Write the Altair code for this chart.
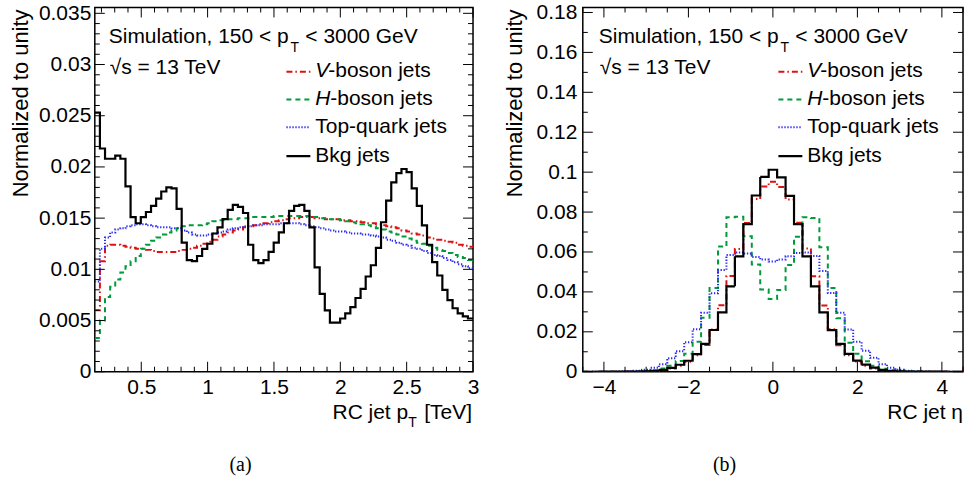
import altair as alt
import numpy as np
import pandas as pd

FONT = "Liberation Sans"
SERIF = "Liberation Serif"

# ---------------- data ----------------
series_names = ["V-boson jets", "H-boson jets", "Top-quark jets", "Bkg jets"]

# (a) RC jet pT [TeV], 74 bins between 0.15 and 3.0
pt_range = (0.15, 3.0)
pt_nbins = 74
pt_v = [0.0060, 0.0108, 0.0123, 0.0124, 0.0124, 0.0123, 0.0122, 0.0121, 0.0120, 0.0120,
        0.0119, 0.0118, 0.0117, 0.0117, 0.0117, 0.0117, 0.0118, 0.0119, 0.0120, 0.0121,
        0.0123, 0.0125, 0.0127, 0.0129, 0.0132, 0.0134, 0.0136, 0.0138, 0.0139, 0.0141,
        0.0142, 0.0143, 0.0144, 0.0145, 0.0146, 0.0147, 0.0148, 0.0149, 0.0150, 0.0150,
        0.0151, 0.0151, 0.0151, 0.0150, 0.0150, 0.0149, 0.0149, 0.0149, 0.0148, 0.0148,
        0.0147, 0.0147, 0.0146, 0.0145, 0.0145, 0.0144, 0.0143, 0.0142, 0.0141, 0.0140,
        0.0138, 0.0137, 0.0135, 0.0134, 0.0133, 0.0131, 0.0130, 0.0129, 0.0128, 0.0127,
        0.0126, 0.0124, 0.0123, 0.0122]
pt_h = [0.0033, 0.0050, 0.0073, 0.0083, 0.0090, 0.0097, 0.0103, 0.0108, 0.0113, 0.0120,
        0.0124, 0.0128, 0.0131, 0.0134, 0.0136, 0.0138, 0.0140, 0.0142, 0.0143, 0.0143,
        0.0143, 0.0144, 0.0145, 0.0147, 0.0148, 0.0148, 0.0149, 0.0149, 0.0150, 0.0150,
        0.0150, 0.0151, 0.0151, 0.0151, 0.0151, 0.0152, 0.0152, 0.0152, 0.0152, 0.0152,
        0.0152, 0.0152, 0.0151, 0.0151, 0.0150, 0.0150, 0.0149, 0.0149, 0.0148, 0.0147,
        0.0146, 0.0145, 0.0144, 0.0143, 0.0142, 0.0140, 0.0139, 0.0137, 0.0136, 0.0134,
        0.0132, 0.0130, 0.0128, 0.0126, 0.0125, 0.0123, 0.0121, 0.0119, 0.0118, 0.0116,
        0.0114, 0.0112, 0.0111, 0.0109]
pt_top = [0.0088, 0.0120, 0.0131, 0.0136, 0.0139, 0.0140, 0.0142, 0.0143, 0.0144, 0.0144,
          0.0143, 0.0142, 0.0141, 0.0141, 0.0141, 0.0140, 0.0140, 0.0138, 0.0136, 0.0134,
          0.0133, 0.0133, 0.0134, 0.0135, 0.0136, 0.0137, 0.0139, 0.0140, 0.0141, 0.0142,
          0.0142, 0.0143, 0.0143, 0.0144, 0.0144, 0.0144, 0.0145, 0.0145, 0.0145, 0.0145,
          0.0144, 0.0143, 0.0142, 0.0141, 0.0140, 0.0139, 0.0138, 0.0137, 0.0137, 0.0136,
          0.0135, 0.0135, 0.0134, 0.0134, 0.0133, 0.0132, 0.0131, 0.0129, 0.0128, 0.0126,
          0.0124, 0.0123, 0.0121, 0.0120, 0.0118, 0.0116, 0.0114, 0.0113, 0.0111, 0.0109,
          0.0107, 0.0105, 0.0103, 0.0101]
pt_bkg = [0.0253, 0.0218, 0.0208, 0.0208, 0.0211, 0.0208, 0.0181, 0.0151, 0.0145, 0.0151,
          0.0156, 0.0162, 0.0169, 0.0176, 0.0180, 0.0179, 0.0159, 0.0126, 0.0109, 0.0108,
          0.0113, 0.0120, 0.0125, 0.0135, 0.0141, 0.0149, 0.0158, 0.0163, 0.0161, 0.0155,
          0.0124, 0.0109, 0.0106, 0.0109, 0.0117, 0.0126, 0.0136, 0.0145, 0.0157, 0.0162,
          0.0163, 0.0157, 0.0141, 0.0102, 0.0076, 0.0060, 0.0048, 0.0048, 0.0052, 0.0057,
          0.0063, 0.0072, 0.0081, 0.0093, 0.0104, 0.0121, 0.0146, 0.0167, 0.0185, 0.0194,
          0.0198, 0.0195, 0.0179, 0.0162, 0.0143, 0.0124, 0.0107, 0.0094, 0.0080, 0.0070,
          0.0062, 0.0057, 0.0054, 0.0052]

# (b) RC jet eta, 45 bins between -4.5 and 4.5
eta_range = (-4.5, 4.5)
eta_nbins = 45
eta_v = [0.0, 0.0, 0.00001, 0.00002, 0.00004, 0.00006, 0.0001, 0.0002, 0.0004, 0.0008,
         0.0016, 0.0030, 0.0050, 0.0082, 0.0134, 0.0212, 0.0333, 0.0480, 0.0615, 0.0745,
         0.0865, 0.0928, 0.0952, 0.0926, 0.0863, 0.0746, 0.0617, 0.0478, 0.0332, 0.0213,
         0.0133, 0.0083, 0.0051, 0.0030, 0.0016, 0.0008, 0.0004, 0.0002, 0.0001, 0.00006,
         0.00004, 0.00002, 0.00001, 0.0, 0.0]
eta_h = [0.0, 0.00001, 0.00002, 0.00003, 0.00005, 0.0001, 0.0002, 0.0004, 0.0008, 0.0016,
         0.0030, 0.0054, 0.0090, 0.0150, 0.0270, 0.0420, 0.0627, 0.0774, 0.0777, 0.0679,
         0.0537, 0.0412, 0.0364, 0.0410, 0.0535, 0.0676, 0.0774, 0.0770, 0.0624, 0.0420,
         0.0268, 0.0145, 0.0090, 0.0053, 0.0030, 0.0015, 0.0008, 0.0004, 0.0002, 0.0001,
         0.00005, 0.00003, 0.00002, 0.00001, 0.0]
eta_top = [0.00001, 0.00002, 0.00003, 0.00005, 0.0001, 0.0003, 0.0005, 0.0010, 0.0020, 0.0038,
           0.0068, 0.0103, 0.0148, 0.0213, 0.0295, 0.0393, 0.0510, 0.0585, 0.0598, 0.0593,
           0.0575, 0.0562, 0.0552, 0.0562, 0.0578, 0.0595, 0.0597, 0.0580, 0.0505, 0.0395,
           0.0295, 0.0212, 0.0150, 0.0105, 0.0070, 0.0038, 0.0020, 0.0010, 0.0005, 0.0003,
           0.0001, 0.00005, 0.00003, 0.00002, 0.00001]
eta_bkg = [0.0, 0.0, 0.00002, 0.00003, 0.00005, 0.0001, 0.0001, 0.0002, 0.0004, 0.0009,
           0.0019, 0.0035, 0.0055, 0.0088, 0.0140, 0.0209, 0.0297, 0.0428, 0.0578, 0.0740,
           0.0883, 0.0976, 0.1012, 0.0974, 0.0881, 0.0740, 0.0578, 0.0428, 0.0297, 0.0208,
           0.0140, 0.0089, 0.0056, 0.0036, 0.0021, 0.0009, 0.0004, 0.0002, 0.0001, 0.0001,
           0.00005, 0.00003, 0.00002, 0.0, 0.0]

# tick values
pt_x_major = [0.5, 1.0, 1.5, 2.0, 2.5, 3.0]
pt_x_minor = [0.2, 0.3, 0.4, 0.6, 0.7, 0.8, 0.9, 1.1, 1.2, 1.3, 1.4, 1.6, 1.7, 1.8, 1.9,
              2.1, 2.2, 2.3, 2.4, 2.6, 2.7, 2.8, 2.9]
pt_y_major = [0.0, 0.005, 0.01, 0.015, 0.02, 0.025, 0.03, 0.035]
pt_y_minor = [round(0.001 * i, 3) for i in range(36) if i % 5 != 0]
eta_x_major = [-4, -2, 0, 2, 4]
eta_x_minor = [-4.5, -3.5, -3, -2.5, -1.5, -1, -0.5, 0.5, 1, 1.5, 2.5, 3, 3.5, 4.5]
eta_y_major = [0.0, 0.02, 0.04, 0.06, 0.08, 0.1, 0.12, 0.14, 0.16, 0.18]
eta_y_minor = [0.01, 0.03, 0.05, 0.07, 0.09, 0.11, 0.13, 0.15, 0.17]

# ---------------- styles ----------------
COLORS = {"V-boson jets": "#dd1111", "H-boson jets": "#009b3a",
          "Top-quark jets": "#2a2af0", "Bkg jets": "#000000"}
DASHES = {"V-boson jets": [6, 3, 1.5, 3], "H-boson jets": [5, 4],
          "Top-quark jets": [1.3, 1.7], "Bkg jets": [1, 0]}
WIDTHS = {"V-boson jets": 2, "H-boson jets": 2, "Top-quark jets": 2, "Bkg jets": 2.2}

ONE = pd.DataFrame({"a": [0]})


def text(t, x, y, size=21, style="normal", align="left", angle=0, font=FONT,
         baseline="alphabetic"):
    return alt.Chart(ONE).mark_text(
        text=t, align=align, baseline=baseline, fontSize=size, font=font,
        fontStyle=style, angle=angle, color="black"
    ).encode(x=alt.value(x), y=alt.value(y))


def sample(name, x1, x2, y):
    return alt.Chart(ONE).mark_rule(
        color=COLORS[name], strokeDash=DASHES[name], strokeWidth=WIDTHS[name]
    ).encode(x=alt.value(x1), x2=alt.value(x2), y=alt.value(y))


def panel(rng, nbins, vals, W, H, ydom, xmaj, xmin, ymaj, ymin, ylabpad, ann):
    edges = np.linspace(rng[0], rng[1], nbins + 1)
    xs = alt.Scale(domain=list(rng), nice=False, zero=False)
    ys = alt.Scale(domain=ydom, nice=False, zero=False)
    xaxis = alt.Axis(values=xmaj, ticks=False, tickSize=0, domain=False, grid=False,
                     labelFont=FONT, labelFontSize=21, labelColor="black",
                     labelPadding=5, labelFlush=False, labelOverlap=False,
                     labelExpr="format(datum.value, '~g')", title=None)
    yaxis = alt.Axis(values=ymaj, ticks=False, tickSize=0, domain=False, grid=False,
                     labelFont=FONT, labelFontSize=21, labelColor="black",
                     labelPadding=ylabpad, labelFlush=False, labelOverlap=False,
                     labelExpr="format(datum.value, '~g')", title=None)
    layers = []
    for name in series_names:
        v = vals[name]
        df = pd.DataFrame({"x": edges, "y": list(v) + [v[-1]]})
        layers.append(
            alt.Chart(df).mark_line(
                interpolate="step-after", clip=True, color=COLORS[name],
                strokeDash=DASHES[name], strokeWidth=WIDTHS[name]
            ).encode(
                x=alt.X("x:Q", scale=xs, axis=xaxis),
                y=alt.Y("y:Q", scale=ys, axis=yaxis),
            )
        )
    # inward ticks on all four sides
    for tv, L in ((xmaj, 10), (xmin, 5)):
        d = pd.DataFrame({"x": tv})
        for y1, y2 in ((H, H - L), (0, L)):
            layers.append(alt.Chart(d).mark_rule(color="black", strokeWidth=1).encode(
                x=alt.X("x:Q", scale=xs, axis=xaxis), y=alt.value(y1), y2=alt.value(y2)))
    for tv, L in ((ymaj, 10), (ymin, 5)):
        d = pd.DataFrame({"y": tv})
        for x1, x2 in ((0, L), (W, W - L)):
            layers.append(alt.Chart(d).mark_rule(color="black", strokeWidth=1).encode(
                y=alt.Y("y:Q", scale=ys, axis=yaxis), x=alt.value(x1), x2=alt.value(x2)))
    layers += ann
    return alt.layer(*layers).properties(width=W, height=H)


# ---------------- annotations ----------------
def common_ann(dx, sx, ytx):
    a = [
        text("Simulation, 150 < p", 14 + dx, 36),
        text("T", 196 + dx, 45, size=14),
        text("< 3000 GeV", 211 + dx, 36),
        text("√s = 13 TeV", 15 + dx, 66.7),
        text("Normalized to unity", ytx, 2, size=22, align="right", angle=270,
             baseline="middle"),
    ]
    rows = [64.3, 92.3, 120.0, 149.0]
    bases = [70, 97.7, 125.7, 155]
    for name, yr in zip(series_names, rows):
        a.append(sample(name, sx, sx + 24, yr))
    tx = sx + 29
    a += [
        text("V", tx, bases[0], style="italic"),
        text("-boson jets", tx + 13, bases[0]),
        text("H", tx, bases[1], style="italic"),
        text("-boson jets", tx + 15, bases[1]),
        text("Top-quark jets", tx, bases[2]),
        text("Bkg jets", tx, bases[3]),
    ]
    return a


left_ann = common_ann(0, 192, -74) + [
    text("RC jet p", 314, 412, align="right"),
    text("T", 314, 420, size=14),
    text("[TeV]", 378, 412, align="right"),
    text("(a)", 146, 464, size=20, font=SERIF, align="center"),
    alt.Chart(ONE).mark_rule(opacity=0).encode(
        x=alt.value(-93.5), y=alt.value(-4.5), y2=alt.value(477.5)),
]
right_ann = common_ann(2, 196, -68) + [
    text("RC jet η", 381, 412, align="right"),
    text("(b)", 142, 464, size=20, font=SERIF, align="center"),
    alt.Chart(ONE).mark_rule(opacity=0).encode(
        x=alt.value(384.5), y=alt.value(-4.5), y2=alt.value(477.5)),
]

left = panel(pt_range, pt_nbins,
             {"V-boson jets": pt_v, "H-boson jets": pt_h, "Top-quark jets": pt_top,
              "Bkg jets": pt_bkg},
             379, 365, [0, 0.03557], pt_x_major, pt_x_minor, pt_y_major, pt_y_minor, 4,
             left_ann)
right = panel(eta_range, eta_nbins,
              {"V-boson jets": eta_v, "H-boson jets": eta_h, "Top-quark jets": eta_top,
               "Bkg jets": eta_bkg},
              381, 365, [0, 0.1825], eta_x_major, eta_x_minor, eta_y_major, eta_y_minor, 6,
              right_ann)

chart = alt.hconcat(left, right, spacing=110, bounds="flush").properties(
    padding=0, background="white"
).configure_view(stroke="black", strokeWidth=1.5)

chart.save("out.html", embed_options={"renderer": "svg", "actions": False})
